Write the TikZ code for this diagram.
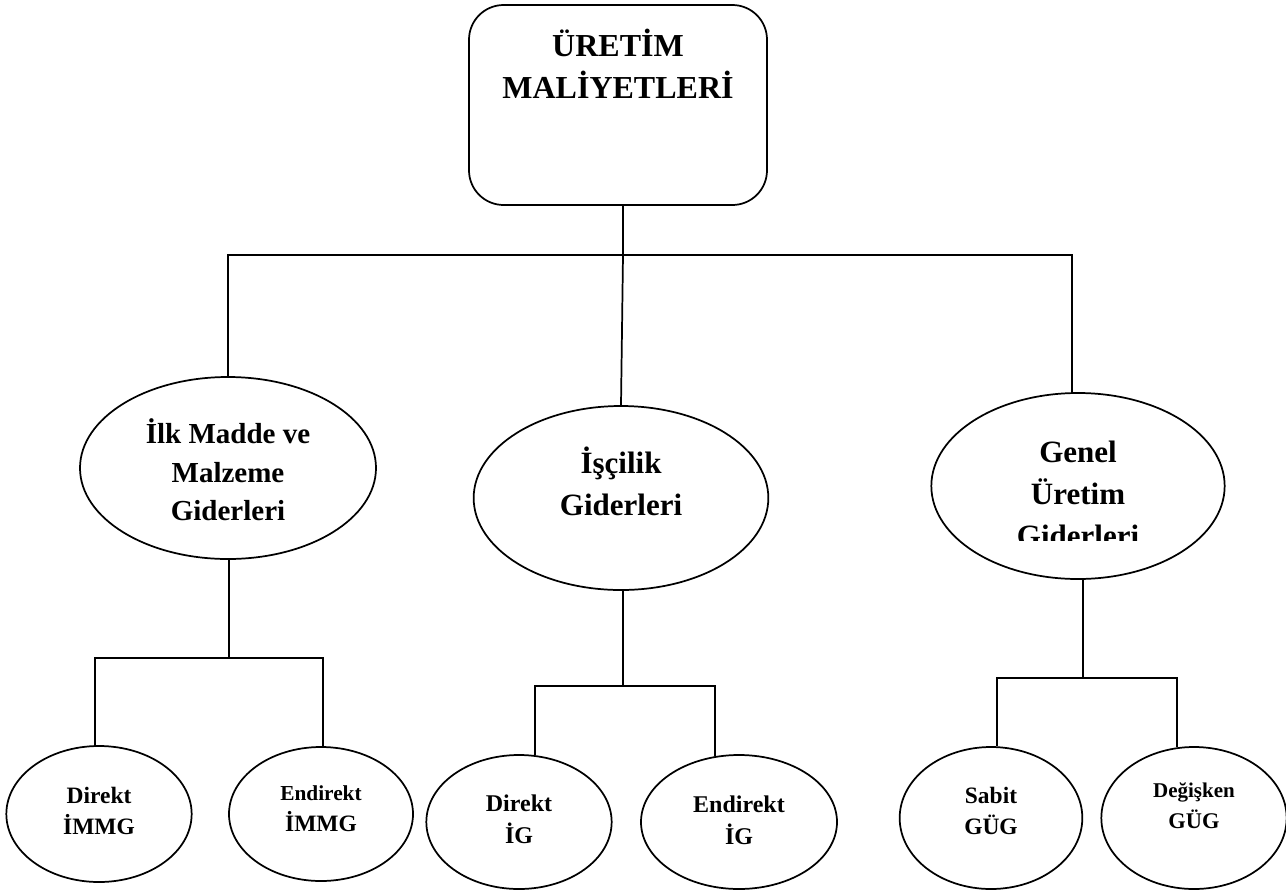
\documentclass[tikz,border=0pt]{standalone}
\usepackage{fontspec}
\setmainfont{Liberation Serif}
\usetikzlibrary{shapes.geometric}

\begin{document}
\begin{tikzpicture}[x=0.75pt,y=-0.75pt,
  wire/.style={line width=1.3pt},
  shape line/.style={draw, line width=1.3pt, inner sep=0pt},
  titlebox/.style={shape line, rectangle, rounded corners=26pt,
    minimum width=223.5pt, minimum height=150pt},
  ell/.style={shape line, ellipse},
  inside/.style={align=center, inner sep=0pt},
  titletext/.style={font=\fontsize{24}{31.5}\selectfont\bfseries, inside},
  midA/.style={font=\fontsize{21.75}{29}\selectfont\bfseries},
  midB/.style={font=\fontsize{23.25}{31.5}\selectfont\bfseries},
  lowA/.style={font=\fontsize{17.6}{23.25}\selectfont\bfseries},
  lowC/.style={font=\fontsize{18}{24}\selectfont\bfseries}]
\useasboundingbox (0,0) rectangle (1286,890);

% root
\node[titlebox] (top) at (618,105) {};
\node[titletext] (ttl) at (618,64) {ÜRETİM\\MALİYETLERİ};

% second level
\node[ell, minimum width=222pt, minimum height=136.5pt,
  label={[inside, midA, yshift=-1.5pt]center:İlk Madde ve\\Malzeme\\Giderleri}] (e1) at (228,468) {};
\node[ell, minimum width=221pt, minimum height=138pt,
  label={[inside, midB, yshift=12.75pt]center:İşçilik\\Giderleri}] (e2) at (621,498) {};
\node[ell, minimum width=220pt, minimum height=139.5pt] (e3) at (1078,486) {};
\begin{scope}
  \clip (930,380) rectangle (1230,540);
  \node[midB, inside] (t3) at (1078,494) {Genel\\Üretim\\Giderleri};
\end{scope}

% third level
\node[ell, minimum width=139pt, minimum height=102pt,
  label={[inside, lowA, yshift=2.6pt]center:Direkt\\İMMG}] (d1) at (99,814) {};
\node[ell, minimum width=138pt, minimum height=100.5pt,
  label={[inside, lowA, yshift=4pt]center:{\fontsize{16}{22}\selectfont Endirekt}\\İMMG}] (d2) at (321,814) {};
\node[ell, minimum width=139pt, minimum height=100.5pt,
  label={[inside, lowC, yshift=2.25pt]center:Direkt\\İG}] (d3) at (519,822) {};
\node[ell, minimum width=147pt, minimum height=100.5pt,
  label={[inside, lowC, yshift=1.5pt]center:Endirekt\\İG}] (d4) at (739,822) {};
\node[ell, minimum width=137pt, minimum height=106.5pt,
  label={[inside, lowA, yshift=5.6pt]center:Sabit\\GÜG}] (d5) at (991,818) {};
\node[ell, minimum width=139pt, minimum height=106.5pt,
  label={[inside, lowA, yshift=9pt]center:{\fontsize{15.75}{22}\selectfont Değişken}\\{\fontsize{16.8}{22}\selectfont GÜG}}] (d6) at (1194,818) {};

% junctions
\coordinate (j0) at (623,255);
\coordinate (j1) at (229,658);
\coordinate (j2) at (623,686);
\coordinate (j3) at (1083,678);

% connectors
\draw[wire] ([xshift=3.75pt]top.south) -- (j0);
\draw[wire] (e1.north) |- (j0) -| ([xshift=-4.5pt]e3.north);
\draw[wire] (j0) -- (e2.north);

\draw[wire] ([xshift=0.75pt]e1.south) -- (j1);
\draw[wire] ([xshift=-3pt]d1.north) |- (j1) -| ([xshift=1.5pt]d2.north);

\draw[wire] ([xshift=1.5pt]e2.south) -- (j2);
\draw[wire] ([xshift=12pt,yshift=-0.5pt]d3.north) |- (j2) -| ([xshift=-18pt,yshift=-1.5pt]d4.north);

\draw[wire] ([xshift=3.75pt]e3.south) -- (j3);
\draw[wire] ([xshift=4.5pt]d5.north) |- (j3) -| ([xshift=-12.75pt,yshift=-1pt]d6.north);
\end{tikzpicture}
\end{document}
